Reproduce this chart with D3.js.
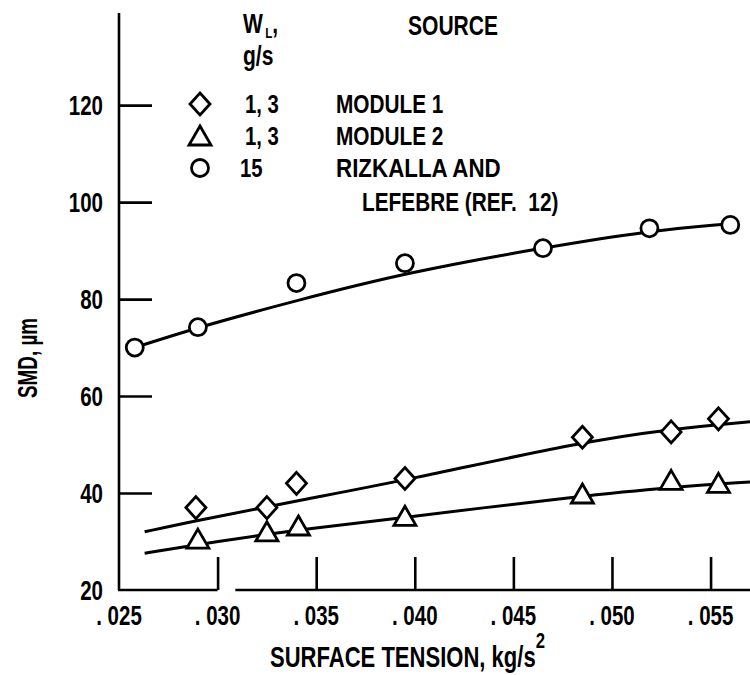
<!DOCTYPE html>
<html lang="en">
<head>
<meta charset="UTF-8">
<title>SMD vs surface tension</title>
<script src="https://cdn.jsdelivr.net/npm/d3@7"></script>
<style>
  body { margin: 0; background: #fff; }
  svg text { font-family: "Liberation Sans", Arial, sans-serif; font-weight: bold; fill: #000; white-space: pre; }
</style>
</head>
<body>
<script>
// measured points
const module1Tension = [0.0289, 0.0325, 0.0340, 0.0395, 0.0485, 0.0530, 0.0554];
const module1Smd = [37, 37, 42, 43, 51.5, 52.6, 55.3];
const module2Tension = [0.0290, 0.0325, 0.0341, 0.0395, 0.0485, 0.0530, 0.0554];
const module2Smd = [30.5, 32, 33.2, 35.2, 39.8, 42.6, 42];
const rizkallaTension = [0.0258, 0.0290, 0.0340, 0.0395, 0.0465, 0.0519, 0.0560];
const rizkallaSmd = [70, 74.2, 83.3, 87.4, 90.5, 94.6, 95.3];

// faired curves
const fitRizkallaT = [0.0255, 0.0290, 0.0340, 0.0395, 0.0465, 0.0519, 0.0559];
const fitRizkallaS = [69.6, 74.2, 79.7, 85.4, 90.6, 94.1, 95.5];
const fitModule1T = [0.0263, 0.0290, 0.0325, 0.0340, 0.0395, 0.0485, 0.0530, 0.0570];
const fitModule1S = [32, 34.4, 37.1, 38.4, 42.6, 50.6, 53.2, 54.7];
const fitModule2T = [0.0263, 0.0290, 0.0325, 0.0340, 0.0395, 0.0485, 0.0530, 0.0570];
const fitModule2S = [27.6, 29.4, 31.5, 32.3, 35, 39.4, 41.2, 42.3];

const xTicks = [0.025, 0.030, 0.035, 0.040, 0.045, 0.050, 0.055];
const xTickLabels = [". 025", ". 030", ". 035", ". 040", ". 045", ". 050", ". 055"];
const yTicks = [20, 40, 60, 80, 100, 120];

const legendFlow = ["1, 3", "1, 3", "15"];
const legendSource = ["MODULE 1", "MODULE 2", "RIZKALLA AND"];

const width = 750;
const height = 675;

const x = d3.scaleLinear().domain([0.025, 0.057]).range([119, 750]);
const y = d3.scaleLinear().domain([20, 139]).range([590, 13]);

const svg = d3.select("body").append("svg").attr("width", width).attr("height", height);

// condensed lettering: squeeze glyphs horizontally
const label = (parent, px, py, str, size, anchor = "start", sx = 0.78) =>
    parent.append("text")
        .attr("transform", `translate(${px},${py}) scale(${sx},1)`)
        .attr("font-size", size)
        .attr("text-anchor", anchor)
        .text(str);

// axes
const axisG = svg.append("g").attr("stroke", "#000").attr("stroke-width", 2.6).attr("fill", "none");
axisG.append("line").attr("x1", x(0.025)).attr("x2", x(0.025)).attr("y1", y(139)).attr("y2", y(20));
axisG.append("line").attr("x1", x(0.025) - 1).attr("x2", x(0.030)).attr("y1", y(20)).attr("y2", y(20));
axisG.append("line").attr("x1", x(0.0309)).attr("x2", x(0.057)).attr("y1", y(20)).attr("y2", y(20));

const yAxis = d3.axisLeft(y).tickValues(yTicks.slice(1)).tickSize(-33).tickFormat("");
const yAxisG = svg.append("g").attr("transform", `translate(${x(0.025)},0)`).call(yAxis);
yAxisG.select(".domain").remove();
yAxisG.selectAll("line").attr("stroke", "#000").attr("stroke-width", 2.6);

const xAxis = d3.axisBottom(x).tickValues(xTicks.slice(1)).tickSize(-33).tickFormat("");
const xAxisG = svg.append("g").attr("transform", `translate(0,${y(20)})`).call(xAxis);
xAxisG.select(".domain").remove();
xAxisG.selectAll("line").attr("stroke", "#000").attr("stroke-width", 2.6);

const labels = svg.append("g");
yTicks.forEach(v => label(labels, 103, y(v) + 10, String(v), 27, "end", 0.76));
xTicks.forEach((v, i) => label(labels, x(v), 625, xTickLabels[i], 27, "middle", 0.76));

// axis titles
const xt = label(labels, 270, 667, "SURFACE TENSION, kg/s", 29, "start", 0.76);
xt.append("tspan").attr("font-size", 22).attr("dy", -19).text("2");
labels.append("text")
    .attr("transform", "translate(37,358) rotate(-90) scale(0.7,1)")
    .attr("font-size", 27)
    .attr("text-anchor", "middle")
    .text("SMD, µm");

// curves
const line = d3.line().x(d => x(d[0])).y(d => y(d[1])).curve(d3.curveBasis);
const curves = [
    d3.zip(fitRizkallaT, fitRizkallaS),
    d3.zip(fitModule1T, fitModule1S),
    d3.zip(fitModule2T, fitModule2S)
];
svg.append("g").selectAll("path").data(curves).join("path")
    .attr("d", line)
    .attr("fill", "none")
    .attr("stroke", "#000")
    .attr("stroke-width", 3);

// markers
const circlePath = (() => { const p = d3.path(); p.arc(0, 0, 8.5, 0, 2 * Math.PI); p.closePath(); return p.toString(); })();
const shapes = {
    diamond: "M0,-11L10,0L0,11L-10,0Z",
    triangle: "M0,-10L11,9L-11,9Z",
    circle: circlePath
};

const series = [
    { shape: "diamond", pts: d3.zip(module1Tension, module1Smd) },
    { shape: "triangle", pts: d3.zip(module2Tension, module2Smd) },
    { shape: "circle", pts: d3.zip(rizkallaTension, rizkallaSmd) }
];

const marks = svg.append("g").attr("fill", "#fff").attr("stroke", "#000").attr("stroke-width", 2.8);
series.forEach(s => {
    marks.selectAll(null).data(s.pts).join("path")
        .attr("transform", d => `translate(${x(d[0])},${y(d[1])})`)
        .attr("d", shapes[s.shape]);
});

// legend
const leg = svg.append("g");
const wl = label(leg, 243, 33, "W", 27);
wl.append("tspan").attr("font-size", 15).attr("dx", 3).attr("dy", 5).text("L");
wl.append("tspan").attr("dy", -5).text(",");
label(leg, 243, 65, "g/s", 27);
label(leg, 408, 35, "SOURCE", 27);

const rowY = [104, 136, 168];
series.forEach((s, i) => {
    leg.append("path")
        .attr("transform", `translate(200,${rowY[i]})`)
        .attr("d", shapes[s.shape])
        .attr("fill", "#fff").attr("stroke", "#000").attr("stroke-width", 2.8);
    label(leg, i === 2 ? 240 : 245, rowY[i] + 9, legendFlow[i], 26);
    label(leg, 336, rowY[i] + 9, legendSource[i], 26, "start", i === 2 ? 0.86 : 0.8);
});
label(leg, 362, 211, "LEFEBRE (REF.  12)", 26, "start", 0.8);
</script>
</body>
</html>
